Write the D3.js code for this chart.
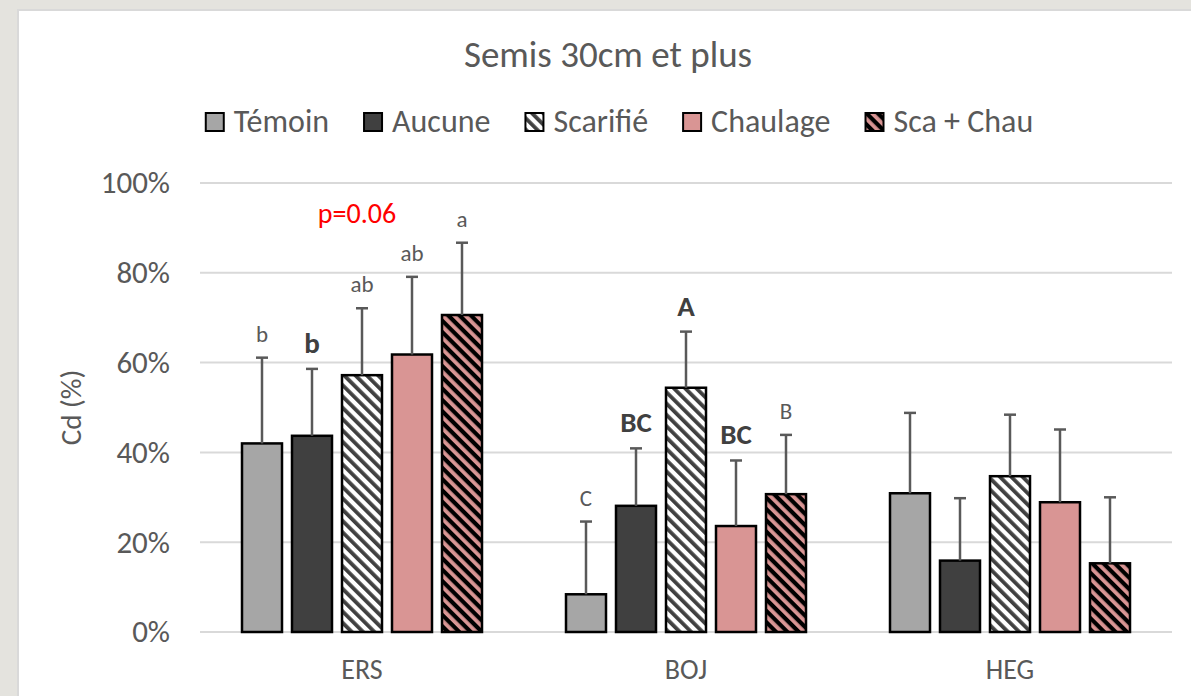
<!DOCTYPE html>
<html lang="fr">
<head>
<meta charset="UTF-8">
<title>Semis 30cm et plus</title>
<script src="https://d3js.org/d3.v7.min.js"></script>
<style>
  html, body { margin: 0; padding: 0; background: #e4e3de; overflow: hidden; }
  svg { display: block; font-family: Calibri, Carlito, Lato, sans-serif; }
</style>
</head>
<body>
<svg id="chart" width="1191" height="696"></svg>
<script>
// data
const categories = ["ERS", "BOJ", "HEG"];
const series = ["Témoin", "Aucune", "Scarifié", "Chaulage", "Sca + Chau"];
const values = {
  "ERS": [0.420, 0.437, 0.572, 0.618, 0.706],
  "BOJ": [0.084, 0.281, 0.544, 0.236, 0.307],
  "HEG": [0.309, 0.159, 0.347, 0.289, 0.153]
};
const errors = {
  "ERS": [0.191, 0.149, 0.149, 0.173, 0.161],
  "BOJ": [0.162, 0.128, 0.125, 0.146, 0.132],
  "HEG": [0.179, 0.139, 0.137, 0.162, 0.147]
};
const letters = {
  "ERS": ["b", "b", "ab", "ab", "a"],
  "BOJ": ["C", "BC", "A", "BC", "B"],
  "HEG": ["", "", "", "", ""]
};
const boldLetters = {
  "ERS": [false, true, false, false, false],
  "BOJ": [false, true, true, true, false],
  "HEG": [false, false, false, false, false]
};
const yTicks = [0, 0.2, 0.4, 0.6, 0.8, 1.0];
const pNote = "p=0.06";

const svg = d3.select("#chart");
const margin = {top: 183, left: 200, right: 19, bottom: 64};
const W = 1191, H = 696;

// white chart panel
svg.append("rect")
  .attr("x", 18).attr("y", 10)
  .attr("width", 1200).attr("height", 700)
  .attr("fill", "#fff").attr("stroke", "#d9d9d9").attr("stroke-width", 2);

// hatch patterns
const defs = svg.append("defs");
function hatch(id, bg, fg) {
  const p = defs.append("pattern")
    .attr("id", id)
    .attr("patternUnits", "userSpaceOnUse")
    .attr("width", 8).attr("height", 8)
    .attr("patternTransform", "rotate(-45)");
  p.append("rect").attr("width", 8).attr("height", 8).attr("fill", bg);
  p.append("rect").attr("width", 3.8).attr("height", 8).attr("fill", fg);
}
hatch("hatchWhite", "#ffffff", "#404040");
hatch("hatchPink", "#000000", "#d99594");

const fills = ["#a6a6a6", "#404040", "url(#hatchWhite)", "#d99594", "url(#hatchPink)"];

const x = d3.scaleBand()
  .domain(categories)
  .range([margin.left, W - margin.right]);

const xInner = d3.scaleBand()
  .domain(series)
  .range([0, x.bandwidth()])
  .paddingInner(0.2)
  .paddingOuter(0.84);

const y = d3.scaleLinear()
  .domain([0, 1])
  .range([H - margin.bottom, margin.top]);

// gridlines
svg.append("g")
  .selectAll("line")
  .data(yTicks)
  .enter().append("line")
  .attr("x1", margin.left).attr("x2", W - margin.right)
  .attr("y1", d => y(d)).attr("y2", d => y(d))
  .attr("stroke", "#d9d9d9").attr("stroke-width", 2);

// y axis
const yAxis = svg.append("g")
  .attr("transform", `translate(${margin.left},0)`)
  .call(d3.axisLeft(y).tickValues(yTicks).tickFormat(d3.format(".0%")).tickSize(0).tickPadding(30));
yAxis.select(".domain").remove();
yAxis.selectAll("text")
  .attr("font-size", 31).attr("fill", "#595959")
  .attr("font-family", "Calibri, Carlito, Lato, sans-serif");

// x axis
const xAxis = svg.append("g")
  .attr("transform", `translate(0,${H - margin.bottom})`)
  .call(d3.axisBottom(x).tickSize(0).tickPadding(27));
xAxis.select(".domain").remove();
xAxis.selectAll("text")
  .attr("font-size", 28).attr("fill", "#595959")
  .attr("font-family", "Calibri, Carlito, Lato, sans-serif");

// y label
svg.append("text")
  .attr("transform", `translate(81,${(y(0) + y(1)) / 2}) rotate(-90)`)
  .attr("text-anchor", "middle")
  .attr("font-size", 29).attr("fill", "#595959")
  .text("Cd (%)");

// bars
const rows = [];
categories.forEach(c => {
  series.forEach((s, i) => {
    rows.push({cat: c, s: s, i: i, v: values[c][i], e: errors[c][i],
      lab: letters[c][i], bold: boldLetters[c][i]});
  });
});

const bars = svg.append("g");
bars.selectAll("rect")
  .data(rows)
  .enter().append("rect")
  .attr("x", d => x(d.cat) + xInner(d.s))
  .attr("y", d => y(d.v))
  .attr("width", xInner.bandwidth())
  .attr("height", d => y(0) - y(d.v))
  .attr("fill", d => fills[d.i])
  .attr("stroke", "#000").attr("stroke-width", 2.5);

// error bars (upper only)
const eb = svg.append("g").attr("stroke", "#595959").attr("stroke-width", 2.5);
const cx = d => x(d.cat) + xInner(d.s) + xInner.bandwidth() / 2;
eb.selectAll(".stem")
  .data(rows)
  .enter().append("line")
  .attr("x1", cx).attr("x2", cx)
  .attr("y1", d => y(d.v)).attr("y2", d => y(d.v + d.e));
eb.selectAll(".cap")
  .data(rows)
  .enter().append("line")
  .attr("x1", d => cx(d) - 6).attr("x2", d => cx(d) + 6)
  .attr("y1", d => y(d.v + d.e)).attr("y2", d => y(d.v + d.e));

// significance letters
svg.append("g")
  .selectAll("text")
  .data(rows.filter(d => d.lab))
  .enter().append("text")
  .attr("x", cx)
  .attr("y", d => y(d.v + d.e) - 16)
  .attr("text-anchor", "middle")
  .attr("font-size", d => d.bold ? 29 : 23)
  .attr("font-weight", d => d.bold ? "bold" : "normal")
  .attr("fill", d => d.bold ? "#404040" : "#595959")
  .text(d => d.lab);

// p value note
svg.append("text")
  .attr("x", x("ERS") + x.bandwidth() / 2 - 5)
  .attr("y", y(0.91))
  .attr("text-anchor", "middle")
  .attr("font-size", 28).attr("fill", "#ff0000")
  .text(pNote);

// title
svg.append("text")
  .attr("x", 608).attr("y", 67)
  .attr("text-anchor", "middle")
  .attr("font-size", 37).attr("fill", "#595959")
  .text("Semis 30cm et plus");

// legend
const legend = svg.append("g");
const items = legend.selectAll("g")
  .data(series)
  .enter().append("g");
items.append("rect")
  .attr("width", 18).attr("height", 18)
  .attr("y", -19)
  .attr("fill", (d, i) => fills[i])
  .attr("stroke", "#000").attr("stroke-width", 2);
items.append("text")
  .attr("x", 28)
  .attr("font-size", 32).attr("fill", "#595959")
  .text(d => d);
let pos = 0;
items.each(function() {
  const g = d3.select(this);
  g.attr("transform", `translate(${pos},0)`);
  pos += 28 + g.select("text").node().getComputedTextLength() + 35;
});
const legendWidth = pos - 35;
legend.attr("transform", `translate(${619.5 - legendWidth / 2},132)`);
</script>
</body>
</html>
